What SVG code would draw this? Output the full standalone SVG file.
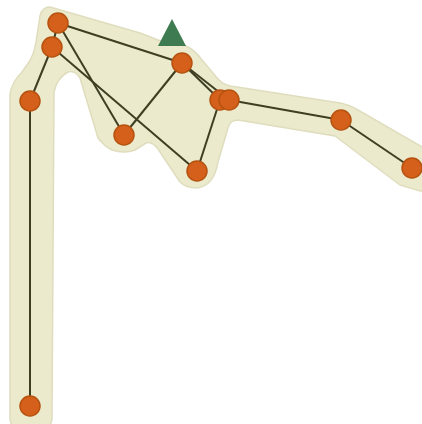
<svg xmlns="http://www.w3.org/2000/svg" width="422" height="424" viewBox="0 0 422 424">
<style>
.hull{fill:#ebeacd;stroke:#dfddbd;stroke-width:1.5;stroke-linejoin:round}
.e{stroke:#3e3e22;stroke-width:2;fill:none}
.n{fill:#d5601b;stroke:#b5520f;stroke-width:1.5}
</style>
<rect width="422" height="424" fill="#ffffff"/>
<g id="hull">
<path class="hull" d="M50,7 L140,33 L158,40 L186,46 Q195,50 202,60 L218,79 Q224,86 237,87 L340,103 Q350,105 358,110 L424,148 L424,192 L400,185 L335,136 L238,120 Q230,120 228,128 L218,162 Q214,186 197,188 Q186,188 180,182 L158,149 Q152,141 146,143 L135,150 Q124,154 112,150 Q104,146 98,138 L80,78 Q75,70 68,72 Q57,78 54,92 L52,418 Q52,426 46,426 L16,426 Q10,426 10,418 L10,94 Q12,82 22,72 L29,62 Q34,54 36,42 L40,16 Q42,7 50,7 Z"/>
</g>
<g id="connectors">
<line class="e" x1="58" y1="23" x2="52" y2="47"/>
<line class="e" x1="58" y1="23" x2="182" y2="63"/>
<line class="e" x1="58" y1="23" x2="124" y2="135"/>
<line class="e" x1="52" y1="47" x2="30" y2="101"/>
<line class="e" x1="52" y1="47" x2="197" y2="171"/>
<line class="e" x1="30" y1="101" x2="30" y2="406"/>
<line class="e" x1="182" y1="63" x2="124" y2="135"/>
<line class="e" x1="182" y1="63" x2="220" y2="100"/>
<line class="e" x1="182" y1="63" x2="229" y2="100"/>
<line class="e" x1="220" y1="100" x2="197" y2="171"/>
<line class="e" x1="229" y1="100" x2="341" y2="120"/>
<line class="e" x1="341" y1="120" x2="412" y2="168"/>
</g>
<g id="marker"><polygon points="172,19 158,46 186,46" fill="#3f7b50"/></g>
<g id="n1"><circle class="n" cx="58" cy="23" r="10"/></g>
<g id="n2"><circle class="n" cx="52" cy="47" r="10"/></g>
<g id="n3"><circle class="n" cx="30" cy="101" r="10"/></g>
<g id="n4"><circle class="n" cx="124" cy="135" r="10"/></g>
<g id="n5"><circle class="n" cx="182" cy="63" r="10"/></g>
<g id="n6"><circle class="n" cx="220" cy="100" r="10"/></g>
<g id="n7"><circle class="n" cx="229" cy="100" r="10"/></g>
<g id="n8"><circle class="n" cx="197" cy="171" r="10"/></g>
<g id="n9"><circle class="n" cx="341" cy="120" r="10"/></g>
<g id="n10"><circle class="n" cx="412" cy="168" r="10"/></g>
<g id="n11"><circle class="n" cx="30" cy="406" r="10"/></g>
</svg>
